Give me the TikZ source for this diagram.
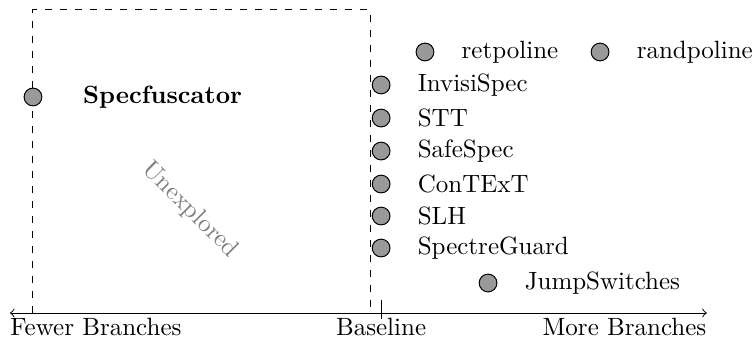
\documentclass[tikz,border=0pt]{standalone}
\usetikzlibrary{positioning}
\tikzset{
  dot/.style={circle, draw, fill=black!40, minimum size=0.25cm, inner sep=0pt},
  lbl/.style={right=0.26cm of #1, inner sep=0.117cm}
}
\begin{document}
\begin{tikzpicture}
  \useasboundingbox (0,0) rectangle (10.59,4.81);

  % axis
  \coordinate (left) at (0.14,0.408);
  \coordinate (right) at (9.94,0.408);
  \coordinate (base) at (5.36,0.408);
  \coordinate (basetop) at (5.36,0.59);
  \coordinate (basebot) at (5.36,0.33);
  \draw[<->] (left) -- (right);
  \draw (basebot) -- (basetop);
  \node[anchor=north west, inner sep=0pt, yshift=-2pt] (fewer) at (left) {Fewer Branches};
  \node[anchor=north, inner sep=0pt, yshift=-2pt] (baseline) at (base) {Baseline};
  \node[anchor=north east, inner sep=0pt, yshift=-2pt] (more) at (right) {More Branches};

  % unexplored region
  \draw[dashed] (0.464,0.408) rectangle (5.204,4.67);
  \node[gray, rotate=-45] (unexp) at (2.672,1.857) {Unexplored};

  % points
  \node[dot] (spec) at (0.464,3.446) {};
  \node[right=0.45cm of spec, inner sep=0.117cm] (specl) {\textbf{Specfuscator}};

  \node[dot] (retp) at (5.977,4.079) {};
  \node[lbl=retp] (retpl) {retpoline};
  \node[dot] (randp) at (8.439,4.079) {};
  \node[lbl=randp] (randpl) {randpoline};

  \node[dot] (invisi) at (5.36,3.615) {};
  \node[lbl=invisi] (invisil) {InvisiSpec};
  \node[dot] (stt) at (5.36,3.150) {};
  \node[lbl=stt] (sttl) {STT};
  \node[dot] (safe) at (5.36,2.686) {};
  \node[lbl=safe] (safel) {SafeSpec};
  \node[dot] (context) at (5.36,2.222) {};
  \node[lbl=context] (contextl) {ConTExT};
  \node[dot] (slh) at (5.36,1.772) {};
  \node[lbl=slh] (slhl) {SLH};
  \node[dot] (guard) at (5.36,1.322) {};
  \node[lbl=guard] (guardl) {SpectreGuard};

  \node[dot] (jump) at (6.864,0.830) {};
  \node[lbl=jump] (jumpl) {JumpSwitches};
\end{tikzpicture}
\end{document}
